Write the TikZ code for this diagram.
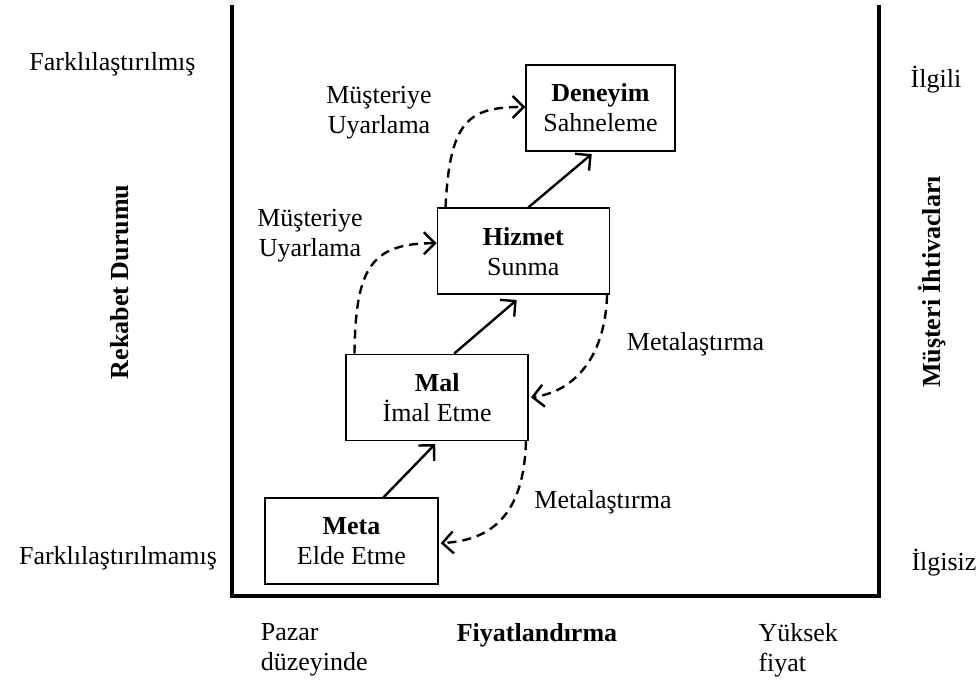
\documentclass[tikz,border=0pt]{standalone}
\usepackage{fontspec}
\setmainfont{Liberation Serif}
\usetikzlibrary{arrows.meta}
\newcommand{\lblfont}{\fontsize{26}{30}\selectfont}
\tikzset{
  stagebox/.style={draw, line width=1.5pt, inner sep=0pt, align=center, font=\lblfont},
  lbl/.style={inner sep=0pt, align=center, font=\lblfont},
  axisline/.style={line width=3.2pt, line cap=rect},
  flow/.style={line width=2.4pt, -{Straight Barb[length=11pt,width=22pt]}},
  dflow/.style={flow, dash pattern=on 9pt off 6pt}
}
\begin{document}
\begin{tikzpicture}[x=1pt,y=-1pt]
\useasboundingbox (0,0) rectangle (979,684);
% frame
\coordinate (tl) at (232,7);
\coordinate (bl) at (232,596);
\coordinate (br) at (879,596);
\coordinate (tr) at (879,7);
\draw[axisline] (tl) -- (bl) -- (br) -- (tr);
% stage boxes
\node[stagebox, minimum width=149pt, minimum height=86pt] (deneyim) at (600.5,108) {\textbf{Deneyim}\\Sahneleme};
\node[stagebox, minimum width=172pt, minimum height=86pt] (hizmet) at (523.3,251.2) {\textbf{Hizmet}\\Sunma};
\node[stagebox, minimum width=182pt, minimum height=86pt] (mal) at (437.2,397.3) {\textbf{Mal}\\İmal Etme};
\node[stagebox, minimum width=173pt, minimum height=86pt] (meta) at (351.4,541.2) {\textbf{Meta}\\Elde Etme};
% solid arrows
\draw[flow] ([xshift=32pt]meta.north) -- ([xshift=-2pt,yshift=-3pt]mal.south);
\draw[flow] ([xshift=17pt]mal.north) -- ([xshift=-6.6pt,yshift=-5pt]hizmet.south);
\draw[flow] ([xshift=5pt]hizmet.north) -- ([xshift=-8.8pt,yshift=-2.3pt]deneyim.south);
% dashed arrows
\draw[dflow] ([xshift=9pt]mal.north west) .. controls +(1.3,-84) and +(-67,0) .. ([yshift=8pt]hizmet.west);
\draw[dflow] ([xshift=9pt]hizmet.north west) .. controls +(4,-88) and +(-56,0) .. ([yshift=1pt]deneyim.west);
\draw[dflow] ([xshift=-3pt]hizmet.south east) .. controls +(-2,66) and +(40,-5) .. ([xshift=2pt]mal.east);
\draw[dflow] ([xshift=-3pt]mal.south east) .. controls +(-2,75) and +(50,-3) .. ([xshift=2pt,yshift=-2pt]meta.east);
% labels
\node[lbl] (mu1) at (379,113) {Müşteriye\\Uyarlama};
\node[lbl] (mu2) at (310,236) {Müşteriye\\Uyarlama};
\node[lbl] (met1) at (695.5,344) {Metalaştırma};
\node[lbl] (met2) at (603,502) {Metalaştırma};
\node[lbl] (fark1) at (112.5,64) {Farklılaştırılmış};
\node[lbl] (fark2) at (118,558) {Farklılaştırılmamış};
\node[lbl] (ilgili) at (936,80) {İlgili};
\node[lbl] (ilgisiz) at (944,563) {İlgisiz};
\node[lbl, rotate=90] (rekabet) at (120,282) {\textbf{Rekabet Durumu}};
\node[lbl, rotate=90] (musteri) at (932,282) {\textbf{Müşteri İhtivacları}};
\node[lbl, anchor=west, align=left] (pazar) at (260.7,650) {Pazar\\düzeyinde};
\node[lbl] (fiyat) at (537,635) {\textbf{Fiyatlandırma}};
\node[lbl, anchor=west, align=left] (yuksek) at (758.3,650) {Yüksek\\fiyat};
\end{tikzpicture}
\end{document}
